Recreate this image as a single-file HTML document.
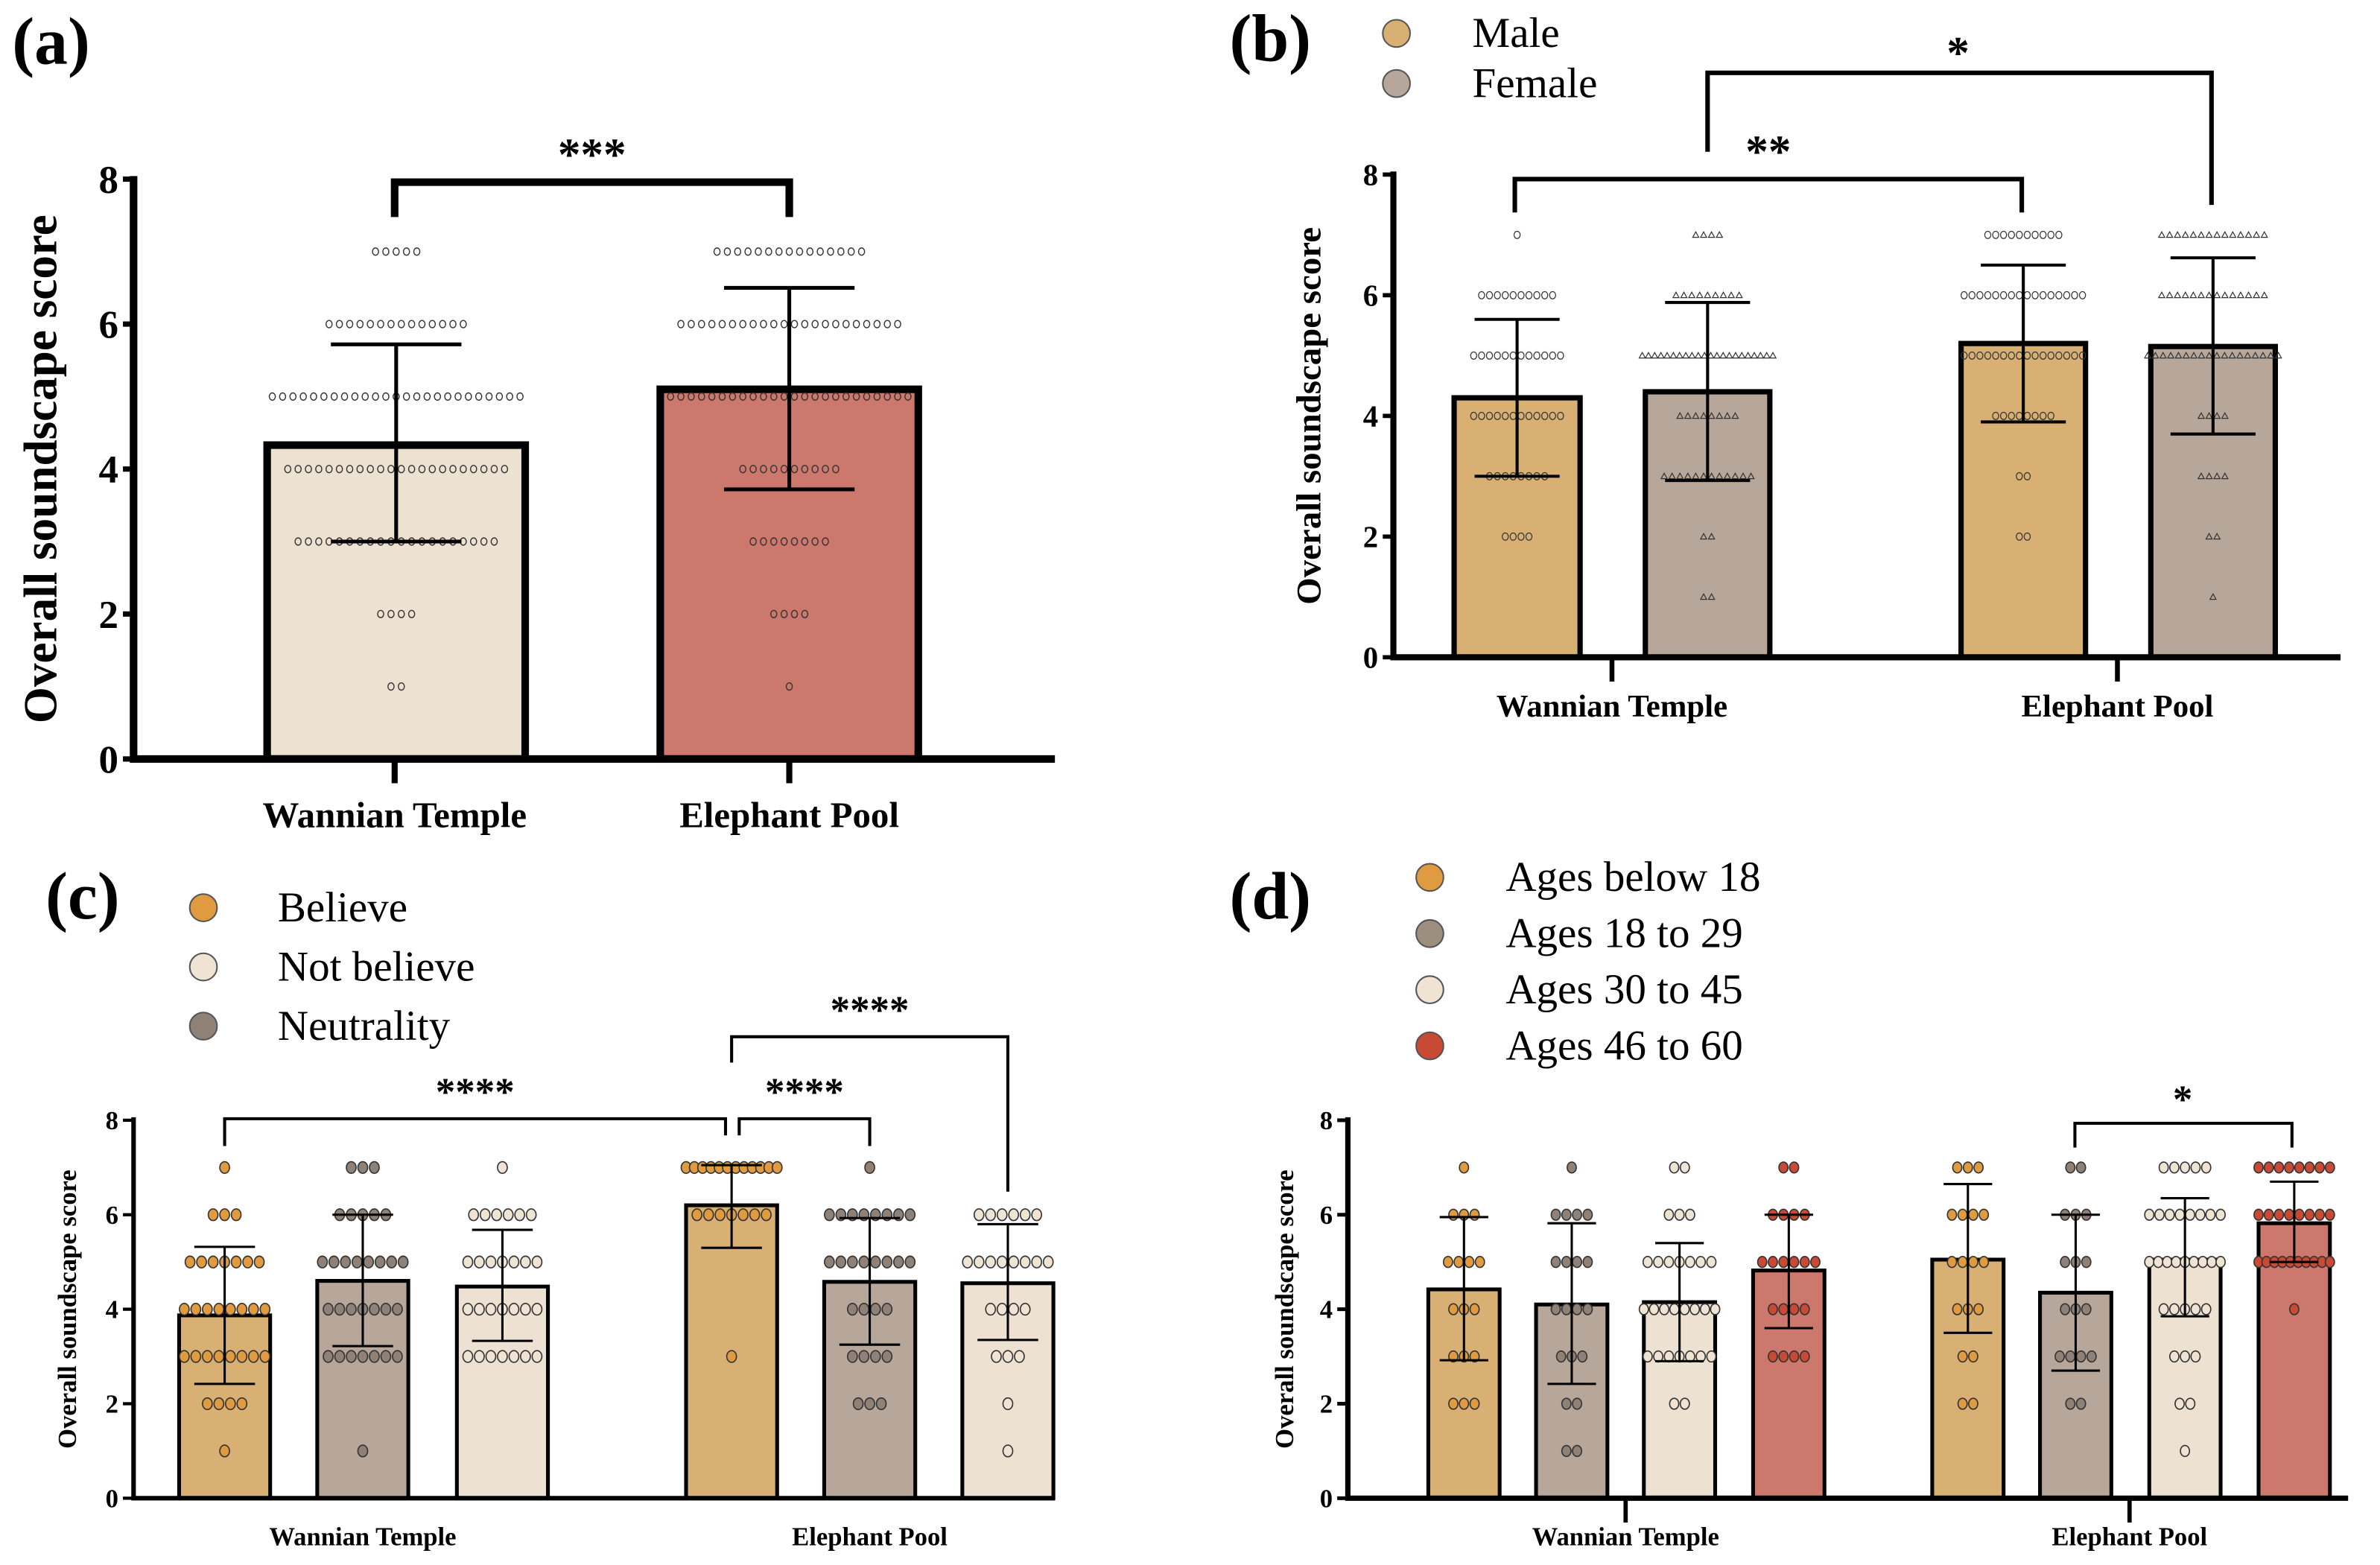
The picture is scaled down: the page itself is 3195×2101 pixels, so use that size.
<!DOCTYPE html>
<html><head><meta charset="utf-8"><style>
html,body{margin:0;padding:0;background:#fff;}
svg{display:block;}
text{font-family:"Liberation Serif","DejaVu Serif",serif;}
</style></head><body>
<svg id="fig" xmlns="http://www.w3.org/2000/svg" width="3195" height="2101" viewBox="0 0 1568 1031" preserveAspectRatio="none" font-family="Liberation Serif, DejaVu Serif, serif"></svg>
<script>
// ===== Data =====
const yTicks = [0,2,4,6,8];
const categories = ["Wannian Temple","Elephant Pool"];
// Panel a
const aMeans = [4.33, 5.10];
const aLow = [3.0, 3.72];
const aHigh = [5.72, 6.5];
const aCounts = [[2,4,20,22,25,14,5],[1,4,8,10,24,22,15]];
// Panel b
const bLegend = ["Male","Female"];
const bMeans = [4.3, 4.4, 5.2, 5.15];
const bLow = [3.0, 2.93, 3.9, 3.7];
const bHigh = [5.6, 5.88, 6.5, 6.62];
const bCounts = [[0,4,8,12,12,10,1],[2,2,12,8,22,9,4],[0,2,2,8,16,16,10],[1,2,4,4,18,14,14]];
// Panel c
const cLegend = ["Believe","Not believe","Neutrality"];
const cMeans = [3.87, 4.6, 4.48, 6.2, 4.58, 4.55];
const cLow = [2.42, 3.22, 3.33, 5.3, 3.25, 3.35];
const cHigh = [5.32, 6.0, 5.68, 7.05, 5.93, 5.8];
const cCounts = [[1,4,8,8,7,3,1],[1,0,7,7,8,5,3],[0,0,7,7,7,6,1],[0,0,1,0,0,7,12],[0,3,4,4,8,8,1],[1,1,3,4,8,6,0]];
// Panel d
const dLegend = ["Ages below 18","Ages 18 to 29","Ages 30 to 45","Ages 46 to 60"];
const dMeans = [4.42, 4.1, 4.15, 4.82, 5.05, 4.35, 5.05, 5.82];
const dLow = [2.92, 2.42, 2.9, 3.6, 3.5, 2.7, 3.85, 5.0];
const dHigh = [5.95, 5.82, 5.4, 6.0, 6.65, 6.0, 6.35, 6.7];
const dCounts = [[0,3,3,3,4,3,1],[2,2,3,4,4,4,1],[0,2,7,8,7,3,2],[0,0,4,4,6,4,2],[0,2,2,3,4,4,3],[0,2,4,3,3,3,2],[1,2,3,5,9,8,5],[0,0,0,1,10,8,8]];

// ===== Rendering =====
const NS="http://www.w3.org/2000/svg";
const svg=document.getElementById('fig');
function mk(tag,attrs,parent,txt){const e=document.createElementNS(NS,tag);for(const k in attrs)e.setAttribute(k,attrs[k]);if(txt!==undefined)e.textContent=txt;(parent||svg).appendChild(e);return e;}

function panel(cfg){
  const g=mk('g',{});
  
  
  const y=v=>cfg.y0-(cfg.y0-cfg.y8)*v/8;
  cfg.means.forEach((m,i)=>{
    const L=cfg.bars[i][0],W=cfg.bars[i][1];
    const r=mk('rect',{x:L,y:y(m),width:W,height:cfg.y0-y(m),fill:cfg.fills[i],stroke:'#000','stroke-width':cfg.barStroke},g);
    
    
  });
  cfg.counts.forEach((cs,i)=>{
    const cx=cfg.bars[i][0]+cfg.bars[i][1]/2;
    const maxW=cfg.bars[i][1]*(cfg.spread||1.1);
    cs.forEach((n,lv)=>{
      const sp=n>1?Math.min(cfg.dotSp,maxW/(n-1)):0;
      for(let k=0;k<n;k++){
        const dx=(k-(n-1)/2)*sp;
        const yy=y(lv+1);
        let d;
        if(cfg.tri&&cfg.tri[i]){
          const s=cfg.dotR;
          d=mk('path',{d:`M${cx+dx},${yy-s} L${cx+dx+s},${yy+s*0.8} L${cx+dx-s},${yy+s*0.8}Z`,fill:'none',stroke:'#333','stroke-width':0.6},g);
        } else {
          d=mk('ellipse',{cx:cx+dx,cy:yy,rx:cfg.dotR,ry:cfg.dotR*1.2,fill:cfg.dotFill?cfg.dotFill[i]:'none',stroke:'#333','stroke-width':cfg.dotStroke},g);
        }
        
        
      }
    });
  });
  cfg.means.forEach((m,i)=>{
    const cx=cfg.bars[i][0]+cfg.bars[i][1]/2;
    const e=mk('path',{d:`M${cx},${y(cfg.low[i])}V${y(cfg.high[i])}M${cx-cfg.cap},${y(cfg.low[i])}H${cx+cfg.cap}M${cx-cfg.cap},${y(cfg.high[i])}H${cx+cfg.cap}`,stroke:'#000','stroke-width':cfg.errW,fill:'none'},g);
    
    
  });
  const ax=mk('path',{d:`M${cfg.ax},${cfg.y8-2}V${cfg.y0}H${cfg.xEnd}`,stroke:'#000','stroke-width':cfg.axW,fill:'none'},g);
  
  
  yTicks.forEach(t=>{
    mk('line',{x1:cfg.ax-7,x2:cfg.ax,y1:y(t),y2:y(t),stroke:'#000','stroke-width':cfg.axW*0.7},g);
    const tl=mk('text',{x:cfg.ax-10,y:y(t)+cfg.tickFs*0.35,'text-anchor':'end','font-size':cfg.tickFs,'font-weight':'bold'},g,t);
    
    
  });
  categories.forEach((c,i)=>{
    if(cfg.xTick) mk('line',{x1:cfg.catX[i],x2:cfg.catX[i],y1:cfg.y0,y2:cfg.y0+16,stroke:'#000','stroke-width':cfg.axW*0.8},g);
    const t=mk('text',{x:cfg.catX[i],y:cfg.catY,'text-anchor':'middle','font-size':cfg.catFs,'font-weight':'bold'},g,c);
    
    
  });
  const yt=mk('text',{x:0,y:0,transform:`translate(${cfg.titleX},${(cfg.y0+cfg.y8)/2}) rotate(-90)`,'text-anchor':'middle','font-size':cfg.titleFs,'font-weight':'bold'},g,'Overall soundscape score');
  
  
  const pl=mk('text',{x:cfg.label[0],y:cfg.label[1],'font-size':44,'font-weight':'bold'},g,cfg.letter);
  
  
  (cfg.brackets||[]).forEach(b=>{
    const p=mk('path',{d:`M${b[0]},${b[3]}V${b[2]}H${b[1]}V${b[4]}`,stroke:'#000','stroke-width':b[7]||2,fill:'none'},g);
    
    
    const s=mk('text',{x:b[5],y:b[6],'text-anchor':'middle','font-size':cfg.starFs,'font-weight':'bold','font-family':'Liberation Sans, sans-serif'},g,b[8]);
    
    
  });
  (cfg.legend||[]).forEach((l,i)=>{
    const c=mk('circle',{cx:cfg.legX,cy:cfg.legY+i*cfg.legSp,r:9,fill:cfg.legFill[i],stroke:'#555','stroke-width':1},g);
    
    
    const t=mk('text',{x:cfg.legX+cfg.legTx,y:cfg.legY+i*cfg.legSp+9,'font-size':28},g,l);
    
    
  });
}
const C1='#d8b074',C2='#b7a79a',C3='#ede1d2',C4='#cd786c';
panel({name:'panel-a',letter:'(a)',label:[8,42],means:aMeans,low:aLow,high:aHigh,counts:aCounts,
  bars:[[176,170],[435,170]],fills:[C3,C4],barStroke:5,y0:500,y8:118,ax:88,xEnd:695,axW:5,
  dotR:2,dotSp:6.8,dotStroke:0.7,cap:43,errW:2.5,tickFs:26,catX:[260,520],catY:545,catFs:24,xTick:true,
  titleX:37,titleFs:31,starFs:30,brackets:[[260,520,120,143,143,390,112,5,'***']]});
panel({name:'panel-b',letter:'(b)',label:[810,40],means:bMeans,low:bLow,high:bHigh,counts:bCounts,
  bars:[[958,83],[1084,82],[1292,82],[1417,82]],fills:[C1,C2,C1,C2],tri:[0,1,0,1],barStroke:3.5,y0:433,y8:115,ax:918,xEnd:1542,axW:4,
  dotR:2,dotSp:5.2,dotStroke:0.6,cap:28,errW:2,tickFs:20,catX:[1062,1395],catY:472,catFs:21,xTick:true,
  titleX:870,titleFs:23,starFs:30,spread:1.05,
  brackets:[[998,1332,118,140,140,1165,110,3,'**'],[1125,1457,48,100,135,1290,45,3,'*']],
  legend:bLegend,legFill:[C1,C2],legX:920,legY:22,legSp:33,legTx:50});
panel({name:'panel-c',letter:'(c)',label:[30,605],means:cMeans,low:cLow,high:cHigh,counts:cCounts,
  bars:[[118,60],[209,60],[301,60],[452,60],[543,60],[634,60]],fills:[C1,C2,C3,C1,C2,C3],
  dotFill:['#e09a3f','#8f8176','#efe3d3','#e09a3f','#8f8176','#efe3d3'],barStroke:2.5,y0:987,y8:738,ax:88,xEnd:695,axW:3,
  dotR:3.2,dotSp:7.6,dotStroke:0.8,cap:20,errW:1.5,tickFs:17,catX:[239,573],catY:1018,catFs:17,xTick:false,
  titleX:50,titleFs:17,starFs:26,spread:1.0,
  brackets:[[148,478,737,755,748,313,728,2,'****'],[487,573,737,748,755,530,728,2,'****'],[482,664,683,700,785,573,674,2,'****']],
  legend:cLegend,legFill:['#e09a3f','#efe3d3','#8f8176'],legX:134,legY:598,legSp:39,legTx:49});
panel({name:'panel-d',letter:'(d)',label:[810,605],means:dMeans,low:dLow,high:dHigh,counts:dCounts,
  bars:[[941,47],[1012,47],[1083,47],[1155,47],[1273,47],[1344,47],[1416,47],[1488,47]],fills:[C1,C2,C3,C4,C1,C2,C3,C4],
  dotFill:['#e09a3f','#8f8176','#efe3d3','#c84a35','#e09a3f','#8f8176','#efe3d3','#c84a35'],barStroke:2.5,y0:987,y8:738,ax:888,xEnd:1547,axW:3.5,
  dotR:3,dotSp:7,dotStroke:0.8,cap:16,errW:1.5,tickFs:17,catX:[1071,1403],catY:1018,catFs:17,xTick:true,
  titleX:852,titleFs:17,starFs:26,spread:1.0,
  brackets:[[1367,1510,740,756,756,1438,733,2,'*']],
  legend:dLegend,legFill:['#e09a3f','#9e8e80','#efe3d3','#c84a35'],legX:942,legY:578,legSp:37,legTx:50});
</script>
</body></html>
